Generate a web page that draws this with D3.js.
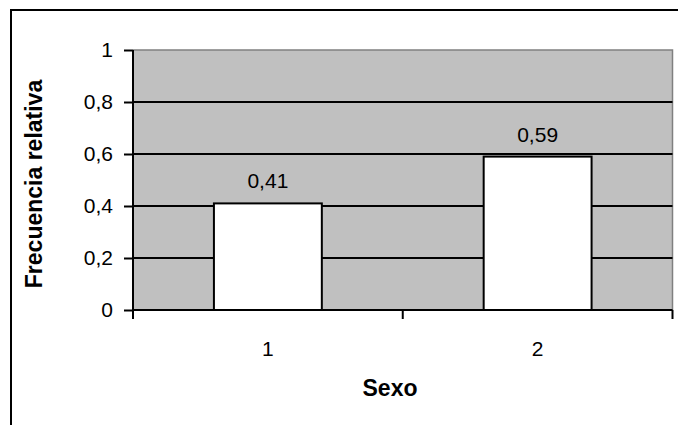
<!DOCTYPE html>
<html><head><meta charset="utf-8">
<script src="https://cdn.jsdelivr.net/npm/d3@7"></script>
<style>html,body{margin:0;padding:0;background:#fff}svg{display:block}</style>
</head><body>
<script>
const categories = ["1", "2"];
const values = [0.41, 0.59];
const valueLabels = ["0,41", "0,59"];
const yTicks = [0, 0.2, 0.4, 0.6, 0.8, 1];
const yTickLabels = ["0", "0,2", "0,4", "0,6", "0,8", "1"];
const xTitle = "Sexo";
const yTitle = "Frecuencia relativa";

(function () {
const W = 678, H = 425;
const svg = d3.select("body").append("svg").attr("width", W).attr("height", H);
const font = "'Liberation Sans', Arial, sans-serif";
const fs = 21, tfs = 23;

// outer chart frame
svg.append("rect").attr("x", 11).attr("y", 10).attr("width", 700).attr("height", 450)
  .attr("fill", "#fff").attr("stroke", "#000").attr("stroke-width", 2);

const pL = 133, pR = 672.5, pT = 50, pB = 310;
const x = d3.scaleBand().domain(categories).range([pL, pR]).paddingInner(0.6).paddingOuter(0.3);
const xb = d3.scaleBand().domain(categories).range([pL, pR]);
const y = d3.scaleLinear().domain([0, 1]).range([pB, pT]);

// plot background
svg.append("rect").attr("x", pL).attr("y", pT).attr("width", pR - pL).attr("height", pB - pT)
  .attr("fill", "#c0c0c0");
// gray border top/right
svg.append("path").attr("d", `M${pL},${pT}H${pR}V${pB}`).attr("fill", "none")
  .attr("stroke", "#808080").attr("stroke-width", 1.5);

// gridlines
svg.append("g").selectAll("line").data(yTicks.filter(t => t > 0 && t < 1)).join("line")
  .attr("x1", pL).attr("x2", pR).attr("y1", d => y(d)).attr("y2", d => y(d))
  .attr("stroke", "#000").attr("stroke-width", 2);

// bars
svg.append("g").selectAll("rect").data(values).join("rect")
  .attr("x", (d, i) => x(categories[i])).attr("width", x.bandwidth())
  .attr("y", d => y(d)).attr("height", d => pB - y(d))
  .attr("fill", "#fff").attr("stroke", "#000").attr("stroke-width", 2);

// value labels
svg.append("g").selectAll("text").data(values).join("text")
  .attr("x", (d, i) => x(categories[i]) + x.bandwidth() / 2)
  .attr("y", d => y(d) - 15)
  .attr("text-anchor", "middle").attr("font-family", font).attr("font-size", fs).attr("fill", "#000")
  .text((d, i) => valueLabels[i]);

// y axis
const yAxis = d3.axisLeft(y).tickValues(yTicks).tickFormat((d, i) => yTickLabels[i]).tickSize(9).tickPadding(11);
const gy = svg.append("g").attr("transform", `translate(${pL},0)`).call(yAxis);
gy.select(".domain").attr("stroke", "#000").attr("stroke-width", 2).attr("d", `M0,${pT}V${pB}`);
gy.selectAll(".tick line").attr("stroke", "#000").attr("stroke-width", 2);
gy.selectAll(".tick text").attr("font-family", font).attr("font-size", fs).attr("fill", "#000");

// x axis
const xAxis = d3.axisBottom(xb).tickSize(0);
const gx = svg.append("g").attr("transform", `translate(0,${pB})`).call(xAxis);
gx.select(".domain").attr("stroke", "#000").attr("stroke-width", 2).attr("d", `M${pL},0H${pR}`);
gx.selectAll(".tick text").attr("font-family", font).attr("font-size", fs).attr("fill", "#000")
  .attr("y", 46).attr("dy", 0);
// category boundary ticks
const bounds = [pL].concat(categories.map(c => xb(c) + xb.bandwidth()));
gx.append("g").selectAll("line").data(bounds).join("line")
  .attr("x1", d => d).attr("x2", d => d).attr("y1", 0).attr("y2", 9)
  .attr("stroke", "#000").attr("stroke-width", 2);

// axis titles
svg.append("text").attr("x", 390).attr("y", 396).attr("text-anchor", "middle")
  .attr("font-family", font).attr("font-size", tfs).attr("font-weight", "bold").text(xTitle);
svg.append("text").attr("transform", `translate(42,184) rotate(-90)`).attr("text-anchor", "middle")
  .attr("font-family", font).attr("font-size", tfs).attr("font-weight", "bold").text(yTitle);
})();
</script>
</body></html>
